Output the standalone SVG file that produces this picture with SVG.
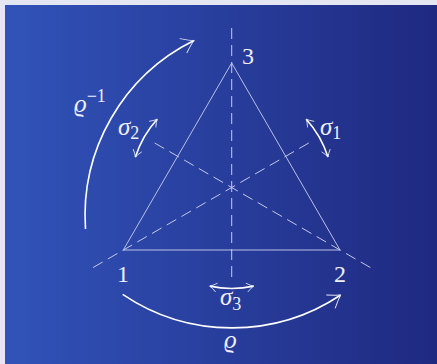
<svg xmlns="http://www.w3.org/2000/svg" width="437" height="364" viewBox="0 0 437 364">
<defs>
<linearGradient id="bg" x1="0" y1="0" x2="1" y2="0">
<stop offset="0" stop-color="#3153b9"/>
<stop offset="1" stop-color="#1f2980"/>
</linearGradient>
<marker id="big" markerUnits="userSpaceOnUse" markerWidth="30" markerHeight="30" refX="0" refY="0" viewBox="-15 -15 30 30" orient="auto-start-reverse" overflow="visible">
<path d="M -12 -8 Q -4 -2 0 0 Q -4 2 -12 8" fill="none" stroke="#e6e9f6" stroke-width="0.9"/>
</marker>
<marker id="small" markerUnits="userSpaceOnUse" markerWidth="20" markerHeight="20" refX="0" refY="0" viewBox="-10 -10 20 20" orient="auto-start-reverse" overflow="visible">
<path d="M -7 -4.5 Q -2.5 -1 0 0 Q -2.5 1 -7 4.5" fill="none" stroke="#e6e9f6" stroke-width="0.8"/>
</marker>
</defs>
<style>
.tri{fill:none;stroke:#b9c0e6;stroke-width:1}
.dash{fill:none;stroke:#c3c9ec;stroke-width:1;stroke-dasharray:11 6}
.arc{fill:none;stroke:#ffffff;stroke-width:1.6}
.lbl{font-family:"Liberation Serif","DejaVu Serif",serif;fill:#eef0fa}
.num{font-size:24px}
.it{font-style:italic;font-size:25px}
.sub{font-size:18px;font-style:normal}
</style>
<rect x="0" y="0" width="437" height="364" fill="#e4e7f1"/>
<rect x="5" y="5" width="432" height="359" fill="url(#bg)"/>
<g id="triangle">
<polygon class="tri" points="123.3,250 340,250 231.7,63"/>
</g>
<g id="axes">
<line class="dash" x1="231.7" y1="28" x2="231.7" y2="282"/>
<line class="dash" x1="93.1" y1="267.5" x2="313.1" y2="140.5"/>
<line class="dash" x1="370.3" y1="267.5" x2="150.3" y2="140.5"/>
</g>
<g id="connectors">
<path id="rho" class="arc" d="M 122.7 294.3 A 195.5 195.5 0 0 0 340.7 295" marker-end="url(#big)"/>
<path id="rhoinv" class="arc" d="M 85.5 229 A 195.5 195.5 0 0 1 194 40.5" marker-end="url(#big)"/>
<path id="s3" class="arc" d="M 209.8 286.1 A 101 101 0 0 0 253.6 286.1" marker-start="url(#small)" marker-end="url(#small)"/>
<path id="s1" class="arc" d="M 306.2 119.2 A 101 101 0 0 1 328 157.1" marker-start="url(#small)" marker-end="url(#small)"/>
<path id="s2" class="arc" d="M 135.4 157.1 A 101 101 0 0 1 157.2 119.2" marker-start="url(#small)" marker-end="url(#small)"/>
</g>
<g id="v1"><text class="lbl num" x="123" y="282" text-anchor="middle">1</text></g>
<g id="v2"><text class="lbl num" x="340" y="282" text-anchor="middle">2</text></g>
<g id="v3"><text class="lbl num" x="242" y="64">3</text></g>
<g id="lsigma1"><text class="lbl" x="320" y="135"><tspan class="it">σ</tspan><tspan class="sub" dy="4">1</tspan></text></g>
<g id="lsigma2"><text class="lbl" x="118" y="135"><tspan class="it">σ</tspan><tspan class="sub" dy="4">2</tspan></text></g>
<g id="lsigma3"><text class="lbl" x="220" y="305"><tspan class="it">σ</tspan><tspan class="sub" dy="5">3</tspan></text></g>
<g id="lrho"><text class="lbl it" x="224" y="348">ϱ</text></g>
<g id="lrhoinv"><text class="lbl" x="74" y="112"><tspan class="it">ϱ</tspan><tspan class="sub" dy="-10">−1</tspan></text></g>
</svg>
